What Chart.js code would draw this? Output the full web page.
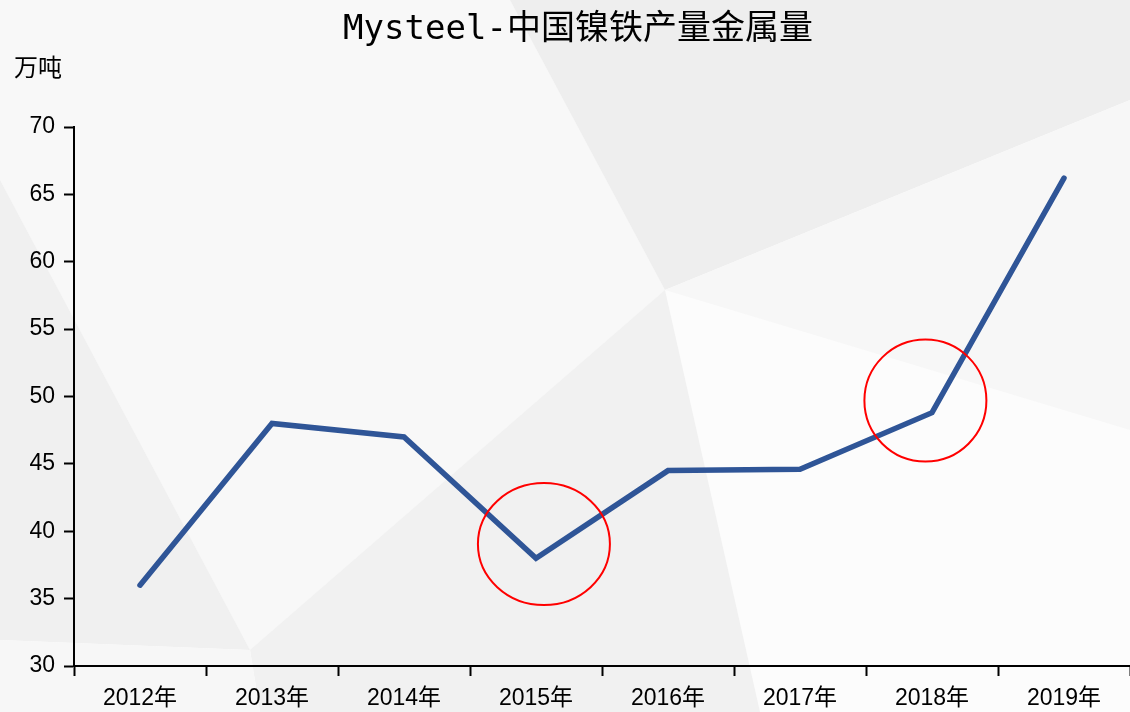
<!DOCTYPE html>
<html>
<head>
<meta charset="utf-8">
<script src="https://cdn.jsdelivr.net/npm/chart.js@4/dist/chart.umd.min.js"></script>
<style>
  html, body { margin: 0; padding: 0; background: #fff; }
  #wrap { width: 1130px; height: 712px; }
</style>
</head>
<body>
<div id="wrap"><canvas id="chart" width="1130" height="712"></canvas></div>
<script>
const titleText = 'Mysteel-中国镍铁产量金属量';
const unitText = '万吨';
const years = ['2012年', '2013年', '2014年', '2015年', '2016年', '2017年', '2018年', '2019年'];
const output = [36.0, 48.0, 47.0, 38.0, 44.5, 44.6, 48.8, 66.2];
const yTicks = [30, 35, 40, 45, 50, 55, 60, 65, 70];
// highlighted spots: category position and value of the circle centre
const circleAt = [3.06, 5.95];
const circleValue = [39.05, 49.7];

const latinFont = "'Liberation Sans', 'Noto Sans CJK SC', sans-serif";

// soft grey facets behind the chart
const backdrop = {
  id: 'backdrop',
  beforeDraw(chart) {
    const ctx = chart.ctx;
    const shapes = [
      ['#fcfcfc', [[0, 0], [1130, 0], [1130, 712], [0, 712]]],
      ['#f8f8f8', [[0, 0], [510, 0], [665, 290], [250, 650], [0, 180]]],
      ['#f0f0f0', [[0, 180], [250, 650], [0, 640]]],
      ['#eeeeee', [[510, 0], [1130, 0], [1130, 100], [665, 290]]],
      ['#f1f1f1', [[665, 290], [760, 712], [260, 712], [250, 650]]],
      ['#f7f7f7', [[0, 640], [250, 650], [260, 712], [0, 712]]],
      ['#f7f7f7', [[665, 290], [1130, 100], [1130, 430]]]
    ];
    ctx.save();
    shapes.forEach(([color, pts]) => {
      ctx.beginPath();
      pts.forEach(([x, y], i) => i ? ctx.lineTo(x, y) : ctx.moveTo(x, y));
      ctx.closePath();
      ctx.fillStyle = color;
      ctx.fill();
    });
    ctx.restore();
  },
  afterDraw(chart) {
    const ctx = chart.ctx;
    const xs = chart.scales.x, ys = chart.scales.y;
    ctx.save();
    // title and unit
    ctx.fillStyle = '#000';
    ctx.textBaseline = 'middle';
    ctx.textAlign = 'center';
    ctx.font = "34px 'DejaVu Sans Mono', 'Noto Sans CJK SC', monospace";
    ctx.fillText(titleText, 578, 30);
    ctx.textAlign = 'left';
    ctx.font = "24px 'Noto Sans CJK SC', sans-serif";
    ctx.fillText(unitText, 14, 67);
    // red circles
    ctx.strokeStyle = '#ff0000';
    ctx.lineWidth = 2;
    const radii = [[66, 61], [61, 61]];
    circleAt.forEach((pos, i) => {
      const cx = xs.getPixelForValue(pos);
      const cy = ys.getPixelForValue(circleValue[i]);
      ctx.beginPath();
      ctx.ellipse(cx, cy, radii[i][0], radii[i][1], 0, 0, Math.PI * 2);
      ctx.stroke();
    });
    ctx.restore();
  }
};

const ctx = document.getElementById('chart').getContext('2d');
new Chart(ctx, {
  type: 'line',
  data: {
    labels: years,
    datasets: [{
      data: output,
      borderColor: '#2F5597',
      borderWidth: 5.5,
      borderCapStyle: 'round',
      pointRadius: 0,
      tension: 0,
      fill: false
    }]
  },
  options: {
    responsive: false,
    animation: false,
    layout: { padding: { top: 127, right: 0, left: 0, bottom: 0 } },
    plugins: { legend: { display: false }, title: { display: false }, tooltip: { enabled: false } },
    scales: {
      x: {
        offset: true,
        grid: { offset: true, drawOnChartArea: false, tickLength: 10, tickColor: '#000', tickWidth: 2 },
        border: { color: '#000', width: 2 },
        ticks: { color: '#000', font: { family: latinFont, size: 23 }, padding: 9, maxRotation: 0 },
        afterFit(scale) { scale.height = 46; }
      },
      y: {
        min: 30,
        max: 70,
        afterBuildTicks(scale) { scale.ticks = yTicks.map(v => ({ value: v })); },
        grid: { drawOnChartArea: false, tickLength: 10, tickColor: '#000', tickWidth: 2 },
        border: { color: '#000', width: 2 },
        ticks: { color: '#000', font: { family: latinFont, size: 23 }, padding: 9 },
        afterFit(scale) { scale.width = 74; }
      }
    }
  },
  plugins: [backdrop]
});
</script>
</body>
</html>
